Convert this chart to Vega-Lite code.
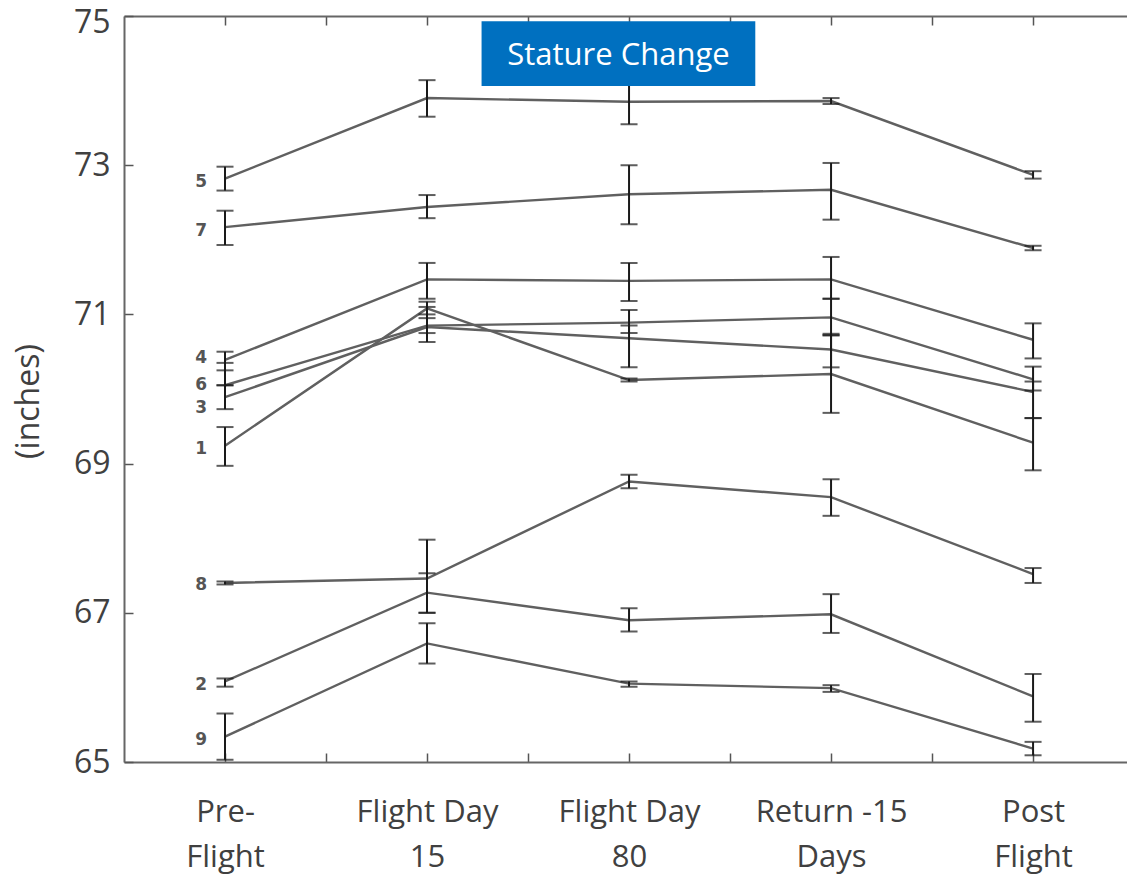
{
  "$schema": "https://vega.github.io/schema/vega-lite/v6.json",
  "width": 1003,
  "height": 746,
  "autosize": {"type": "none"},
  "padding": {"left": 124, "top": 16, "right": 0, "bottom": 113},
  "background": "white",
  "config": {"view": {"stroke": null}, "font": "Open Sans"},
  "datasets": {
    "obs": [
      {"s": "5", "t": 1, "v": 72.82, "lo": 72.66, "hi": 72.98},
      {"s": "5", "t": 2, "v": 73.90, "lo": 73.65, "hi": 74.14},
      {"s": "5", "t": 3, "v": 73.85, "lo": 73.55, "hi": 74.15},
      {"s": "5", "t": 4, "v": 73.86, "lo": 73.82, "hi": 73.90},
      {"s": "5", "t": 5, "v": 72.87, "lo": 72.82, "hi": 72.92},
      {"s": "7", "t": 1, "v": 72.17, "lo": 71.93, "hi": 72.39},
      {"s": "7", "t": 2, "v": 72.44, "lo": 72.29, "hi": 72.60},
      {"s": "7", "t": 3, "v": 72.61, "lo": 72.21, "hi": 73.00},
      {"s": "7", "t": 4, "v": 72.67, "lo": 72.27, "hi": 73.03},
      {"s": "7", "t": 5, "v": 71.89, "lo": 71.86, "hi": 71.92},
      {"s": "4", "t": 1, "v": 70.39, "lo": 70.25, "hi": 70.50},
      {"s": "4", "t": 2, "v": 71.47, "lo": 71.21, "hi": 71.69},
      {"s": "4", "t": 3, "v": 71.45, "lo": 71.18, "hi": 71.69},
      {"s": "4", "t": 4, "v": 71.47, "lo": 71.21, "hi": 71.77},
      {"s": "4", "t": 5, "v": 70.66, "lo": 70.41, "hi": 70.88},
      {"s": "6", "t": 1, "v": 70.05, "lo": 70.05, "hi": 70.35},
      {"s": "6", "t": 2, "v": 70.85, "lo": 70.63, "hi": 71.10},
      {"s": "6", "t": 3, "v": 70.89, "lo": 70.75, "hi": 71.06},
      {"s": "6", "t": 4, "v": 70.96, "lo": 70.72, "hi": 71.21},
      {"s": "6", "t": 5, "v": 70.13, "lo": 69.98, "hi": 70.30},
      {"s": "3", "t": 1, "v": 69.89, "lo": 69.73, "hi": 70.05},
      {"s": "3", "t": 2, "v": 70.83, "lo": 70.75, "hi": 70.95},
      {"s": "3", "t": 3, "v": 70.68, "lo": 70.29, "hi": 70.85},
      {"s": "3", "t": 4, "v": 70.53, "lo": 70.29, "hi": 70.74},
      {"s": "3", "t": 5, "v": 69.96, "lo": 69.61, "hi": 70.10},
      {"s": "1", "t": 1, "v": 69.24, "lo": 68.97, "hi": 69.49},
      {"s": "1", "t": 2, "v": 71.08, "lo": 71.00, "hi": 71.17},
      {"s": "1", "t": 3, "v": 70.12, "lo": 70.10, "hi": 70.14},
      {"s": "1", "t": 4, "v": 70.20, "lo": 69.68, "hi": 70.72},
      {"s": "1", "t": 5, "v": 69.28, "lo": 68.91, "hi": 69.61},
      {"s": "8", "t": 1, "v": 67.40, "lo": 67.38, "hi": 67.42},
      {"s": "8", "t": 2, "v": 67.46, "lo": 67.00, "hi": 67.98},
      {"s": "8", "t": 3, "v": 68.76, "lo": 68.67, "hi": 68.85},
      {"s": "8", "t": 4, "v": 68.55, "lo": 68.30, "hi": 68.79},
      {"s": "8", "t": 5, "v": 67.52, "lo": 67.40, "hi": 67.60},
      {"s": "2", "t": 1, "v": 66.08, "lo": 66.01, "hi": 66.12},
      {"s": "2", "t": 2, "v": 67.27, "lo": 67.00, "hi": 67.53},
      {"s": "2", "t": 3, "v": 66.90, "lo": 66.75, "hi": 67.06},
      {"s": "2", "t": 4, "v": 66.98, "lo": 66.73, "hi": 67.25},
      {"s": "2", "t": 5, "v": 65.88, "lo": 65.54, "hi": 66.18},
      {"s": "9", "t": 1, "v": 65.34, "lo": 65.03, "hi": 65.65},
      {"s": "9", "t": 2, "v": 66.59, "lo": 66.32, "hi": 66.86},
      {"s": "9", "t": 3, "v": 66.05, "lo": 66.01, "hi": 66.08},
      {"s": "9", "t": 4, "v": 65.99, "lo": 65.94, "hi": 66.03},
      {"s": "9", "t": 5, "v": 65.18, "lo": 65.09, "hi": 65.27}
    ],
    "labels": [
      {"s": "5", "t": 1, "v": 72.77},
      {"s": "7", "t": 1, "v": 72.12},
      {"s": "4", "t": 1, "v": 70.42},
      {"s": "6", "t": 1, "v": 70.05},
      {"s": "3", "t": 1, "v": 69.75},
      {"s": "1", "t": 1, "v": 69.20},
      {"s": "8", "t": 1, "v": 67.37},
      {"s": "2", "t": 1, "v": 66.03},
      {"s": "9", "t": 1, "v": 65.30}
    ],
    "box": [
      {"label": "Stature Change", "x1": 2.27, "x2": 3.625, "y1": 74.06, "y2": 74.93, "xm": 2.9475, "ym": 74.46}
    ]
  },
  "layer": [
    {
      "data": {"name": "obs"},
      "mark": {"type": "line", "color": "#606060", "strokeWidth": 2.4},
      "encoding": {
        "x": {
          "field": "t", "type": "quantitative",
          "scale": {"domain": [0.5, 5.465], "nice": false, "zero": false},
          "axis": {
            "orient": "bottom",
            "values": [1, 1.5, 2, 2.5, 3, 3.5, 4, 4.5, 5],
            "labelExpr": "datum.value == 1 ? ['Pre-', 'Flight'] : datum.value == 2 ? ['Flight Day', '15'] : datum.value == 3 ? ['Flight Day', '80'] : datum.value == 4 ? ['Return -15', 'Days'] : datum.value == 5 ? ['Post', 'Flight'] : ''",
            "title": null,
            "grid": false,
            "tickSize": -9,
            "tickColor": "#555555",
            "tickWidth": 1.5,
            "domainColor": "#666666",
            "domainWidth": 2,
            "labelFont": "Open Sans",
            "labelFontSize": 31,
            "labelColor": "#404040",
            "labelBaseline": "top",
            "labelLineHeight": 45,
            "labelPadding": 44,
            "labelFlush": false,
            "labelOverlap": false
          }
        },
        "y": {
          "field": "v", "type": "quantitative",
          "scale": {"domain": [65, 75], "nice": false, "zero": false},
          "axis": {
            "values": [65, 67, 69, 71, 73, 75],
            "format": "d",
            "title": "(inches)",
            "titleFont": "Open Sans",
            "titleFontSize": 32,
            "titleFontWeight": "normal",
            "titleColor": "#404040",
            "titleX": -96,
            "titleY": 385,
            "titleAngle": 270,
            "titleBaseline": "middle",
            "titleAlign": "center",
            "grid": false,
            "tickSize": -9,
            "tickColor": "#555555",
            "tickWidth": 1.5,
            "domainColor": "#666666",
            "domainWidth": 2,
            "labelFont": "Open Sans",
            "labelFontSize": 32,
            "labelColor": "#404040",
            "labelPadding": 23,
            "labelFlush": false,
            "labelOffset": {"condition": {"test": "datum.value == 75", "value": 6}, "value": 0},
            "labelOverlap": false
          }
        },
        "detail": {"field": "s"}
      }
    },
    {
      "data": {"name": "obs"},
      "mark": {"type": "rule", "color": "#1a1a1a", "strokeWidth": 2},
      "encoding": {
        "x": {
          "field": "t", "type": "quantitative",
          "axis": {
            "orient": "top",
            "values": [1, 1.5, 2, 2.5, 3, 3.5, 4, 4.5, 5],
            "labels": false,
            "title": null,
            "grid": false,
            "tickSize": -9,
            "tickColor": "#555555",
            "tickWidth": 1.5,
            "domainColor": "#666666",
            "domainWidth": 2
          }
        },
        "y": {"field": "lo", "type": "quantitative"},
        "y2": {"field": "hi"}
      }
    },
    {
      "data": {"name": "obs"},
      "mark": {"type": "tick", "orient": "horizontal", "color": "#1a1a1a", "size": 17, "thickness": 2},
      "encoding": {
        "x": {"field": "t", "type": "quantitative", "axis": null},
        "y": {"field": "lo", "type": "quantitative"}
      }
    },
    {
      "data": {"name": "obs"},
      "mark": {"type": "tick", "orient": "horizontal", "color": "#1a1a1a", "size": 17, "thickness": 2},
      "encoding": {
        "x": {"field": "t", "type": "quantitative", "axis": null},
        "y": {"field": "hi", "type": "quantitative"}
      }
    },
    {
      "data": {"name": "labels"},
      "mark": {"type": "text", "font": "DejaVu Sans", "fontWeight": "bold", "fontSize": 17, "color": "#555555", "align": "right", "baseline": "middle", "dx": -18},
      "encoding": {
        "x": {"field": "t", "type": "quantitative", "axis": null},
        "y": {"field": "v", "type": "quantitative"},
        "text": {"field": "s"}
      }
    },
    {
      "data": {"name": "box"},
      "mark": {"type": "rect", "color": "#0070C0"},
      "encoding": {
        "x": {"field": "x1", "type": "quantitative", "axis": null},
        "x2": {"field": "x2"},
        "y": {"field": "y1", "type": "quantitative"},
        "y2": {"field": "y2"}
      }
    },
    {
      "data": {"name": "box"},
      "mark": {"type": "text", "font": "Open Sans", "fontSize": 31, "color": "white", "align": "center", "baseline": "middle"},
      "encoding": {
        "x": {"field": "xm", "type": "quantitative", "axis": null},
        "y": {"field": "ym", "type": "quantitative"},
        "text": {"field": "label"}
      }
    }
  ],
  "resolve": {"axis": {"x": "independent"}}
}
